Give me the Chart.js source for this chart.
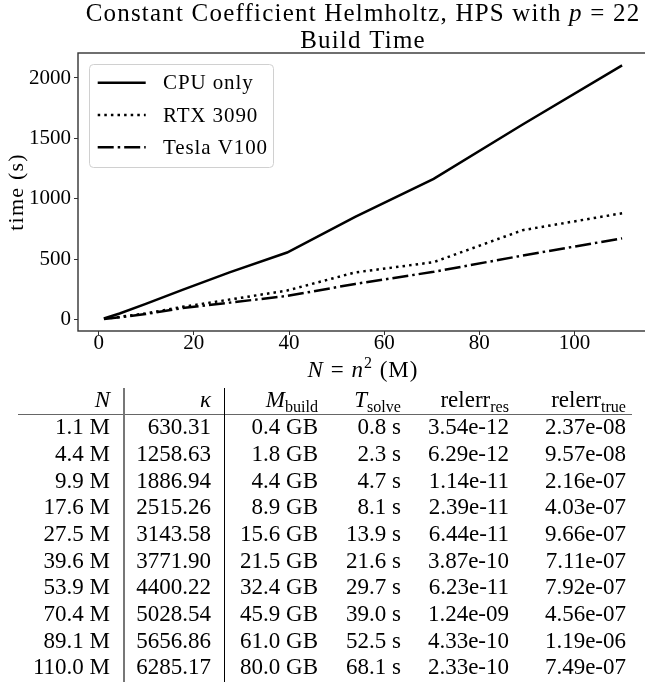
<!DOCTYPE html>
<html>
<head>
<meta charset="utf-8">
<script src="https://cdn.jsdelivr.net/npm/chart.js@4.4.1/dist/chart.umd.min.js"></script>
<style>
  html, body { margin: 0; padding: 0; background: #fff; overflow: hidden; width: 645px; height: 682px; }
  #wrap { position: relative; width: 645px; height: 682px; overflow: hidden; }
  #chart { position: absolute; left: 0; top: 0; }
  #table { position: absolute; left: 0; top: 0; width: 645px; height: 682px; font-family: "Liberation Serif", serif; font-size: 23px; color: #000; }
  .cell { position: absolute; width: 200px; height: 26px; line-height: 26px; text-align: right; white-space: nowrap; }
  .sub { font-size: 70%; position: relative; top: 0.3em; font-style: normal; }
  .it { font-style: italic; }
  .line { position: absolute; }
</style>
</head>
<body>
<div id="wrap">
  <canvas id="chart" width="648" height="385"></canvas>
  <div id="table"></div>
</div>
<script>
// ---------------- data ----------------
const nValues   = [1.1, 4.4, 9.9, 17.6, 27.5, 39.6, 53.9, 70.4, 89.1, 110.0];   // N (millions)
const cpuOnly   = [8, 50, 130, 245, 390, 555, 850, 1165, 1615, 2105];          // build time (s)
const rtx3090   = [6, 22, 50, 105, 165, 240, 390, 475, 740, 880];
const teslaV100 = [5, 18, 45, 95, 140, 195, 295, 395, 530, 672];
const seriesNames = ['CPU only', 'RTX 3090', 'Tesla V100'];
const xTicks = [0, 20, 40, 60, 80, 100];
const yTicks = [0, 500, 1000, 1500, 2000];

const kappa      = ['630.31', '1258.63', '1886.94', '2515.26', '3143.58', '3771.90', '4400.22', '5028.54', '5656.86', '6285.17'];
const mBuild     = ['0.4', '1.8', '4.4', '8.9', '15.6', '21.5', '32.4', '45.9', '61.0', '80.0'];
const tSolve     = ['0.8', '2.3', '4.7', '8.1', '13.9', '21.6', '29.7', '39.0', '52.5', '68.1'];
const relerrRes  = ['3.54e-12', '6.29e-12', '1.14e-11', '2.39e-11', '6.44e-11', '3.87e-10', '6.23e-11', '1.24e-09', '4.33e-10', '2.33e-10'];
const relerrTrue = ['2.37e-08', '9.57e-08', '2.16e-07', '4.03e-07', '9.66e-07', '7.11e-07', '7.92e-07', '4.56e-07', '1.19e-06', '7.49e-07'];

// ---------------- chart ----------------
const FONT = '"Liberation Serif", serif';

function drawRuns(ctx, runs, cx, baseline, spacing) {
  ctx.letterSpacing = (spacing || 0) + 'px';
  let total = 0;
  runs.forEach(r => { ctx.font = r.f; r.w = ctx.measureText(r.t).width; total += r.w; });
  let x = cx - total / 2;
  ctx.textAlign = 'left';
  ctx.textBaseline = 'alphabetic';
  ctx.fillStyle = '#000';
  runs.forEach(r => { ctx.font = r.f; ctx.fillText(r.t, x, baseline + (r.dy || 0)); x += r.w; });
  ctx.letterSpacing = '0px';
}

const framePlugin = {
  id: 'frame',
  afterDatasetsDraw(chart) {
    const {ctx, chartArea: a} = chart;
    ctx.save();
    ctx.strokeStyle = '#333';
    ctx.lineWidth = 1.4;
    ctx.strokeRect(a.left, a.top, a.right - a.left, a.bottom - a.top);
    ctx.restore();
  }
};

const textPlugin = {
  id: 'texts',
  afterDraw(chart) {
    const {ctx, chartArea: a} = chart;
    const cx = (a.left + a.right) / 2;
    ctx.save();
    const n = '25px ' + FONT, i = 'italic 25px ' + FONT;
    drawRuns(ctx, [{t: 'Constant Coefficient Helmholtz, HPS with ', f: n}, {t: 'p', f: i}, {t: ' = 22', f: n}], cx, 21, 1.2);
    drawRuns(ctx, [{t: 'Build Time', f: n}], cx, 48, 1.2);
    const xn = '23px ' + FONT, xi = 'italic 23px ' + FONT, xs = '16px ' + FONT;
    drawRuns(ctx, [{t: 'N', f: xi}, {t: ' = ', f: xn}, {t: 'n', f: xi}, {t: '2', f: xs, dy: -9}, {t: ' (M)', f: xn}], cx, 377, 1);
    // y-axis title
    ctx.save();
    ctx.translate(17, (a.top + a.bottom) / 2);
    ctx.rotate(-Math.PI / 2);
    ctx.font = '22px ' + FONT;
    ctx.letterSpacing = '1.2px';
    ctx.textAlign = 'center';
    ctx.textBaseline = 'middle';
    ctx.fillStyle = '#000';
    ctx.fillText('time (s)', 0, 0);
    ctx.restore();
    ctx.restore();
  }
};

const legendPlugin = {
  id: 'customLegend',
  afterDraw(chart) {
    const {ctx} = chart;
    ctx.save();
    ctx.beginPath();
    ctx.roundRect(89.5, 64.5, 184, 103, 4);
    ctx.fillStyle = 'rgba(255,255,255,0.8)';
    ctx.fill();
    ctx.strokeStyle = '#d0d0d0';
    ctx.lineWidth = 1;
    ctx.stroke();
    chart.data.datasets.forEach((ds, k) => {
      const y = 82.7 + 32.3 * k;
      ctx.beginPath();
      ctx.setLineDash(ds.borderDash || []);
      ctx.lineWidth = ds.borderWidth;
      ctx.strokeStyle = ds.borderColor;
      ctx.moveTo(97.7, y);
      ctx.lineTo(145.7, y);
      ctx.stroke();
      ctx.setLineDash([]);
      ctx.font = '21px ' + FONT;
      ctx.letterSpacing = '0.9px';
      ctx.fillStyle = '#000';
      ctx.textAlign = 'left';
      ctx.textBaseline = 'middle';
      ctx.fillText(ds.label, 163, y + 1);
      ctx.letterSpacing = '0px';
    });
    ctx.restore();
  }
};

function pts(ys) { return nValues.map((x, k) => ({x: x, y: ys[k]})); }
const dashes = [[], [2.5, 4.1], [16, 4, 2.5, 4]];
const allSeries = [cpuOnly, rtx3090, teslaV100];

new Chart(document.getElementById('chart').getContext('2d'), {
  type: 'line',
  data: {
    datasets: allSeries.map((s, k) => ({
      label: seriesNames[k],
      data: pts(s),
      borderColor: '#000',
      backgroundColor: '#000',
      borderWidth: 2.5,
      borderDash: dashes[k],
      pointRadius: 0,
      tension: 0,
      fill: false
    }))
  },
  options: {
    responsive: false,
    animation: false,
    devicePixelRatio: 1,
    layout: {padding: {top: 53, right: 0, bottom: 0, left: 0}},
    plugins: {legend: {display: false}, tooltip: {enabled: false}, title: {display: false}},
    scales: {
      x: {
        type: 'linear', min: -4.345, max: 115.445,
        grid: {drawOnChartArea: false, drawTicks: true, tickLength: 4, color: '#333'},
        border: {display: false},
        afterBuildTicks(s) { s.ticks = xTicks.map(v => ({value: v})); },
        ticks: {autoSkip: false, maxRotation: 0, color: '#000',
                font: {family: FONT, size: 21, lineHeight: 1}, padding: -2,
                callback: v => String(v)},
        afterFit(s) { s.height = 54; }
      },
      y: {
        type: 'linear', min: -95, max: 2207,
        grid: {drawOnChartArea: false, drawTicks: true, tickLength: 4, color: '#333'},
        border: {display: false},
        afterBuildTicks(s) { s.ticks = yTicks.map(v => ({value: v})); },
        ticks: {autoSkip: false, color: '#000', font: {family: FONT, size: 21}, padding: 3,
                callback: v => String(v)},
        afterFit(s) { s.width = 78; }
      }
    }
  },
  plugins: [framePlugin, legendPlugin, textPlugin]
});

// ---------------- table ----------------
const table = document.getElementById('table');
const colRight = [110, 211, 318, 401, 509, 626];
const headerY = 400, firstRowY = 427.3, rowStep = 26.67;

function addCell(html, right, cy) {
  const d = document.createElement('div');
  d.className = 'cell';
  d.style.left = (right - 200) + 'px';
  d.style.top = (cy - 13) + 'px';
  d.innerHTML = html;
  table.appendChild(d);
}
function addLine(l, t, w, h, c) {
  const d = document.createElement('div');
  d.className = 'line';
  d.style.left = l + 'px'; d.style.top = t + 'px';
  d.style.width = w + 'px'; d.style.height = h + 'px';
  d.style.background = c;
  table.appendChild(d);
}
const headers = [
  '<span class="it">N</span>',
  '<span class="it">κ</span>',
  '<span class="it">M</span><span class="sub">build</span>',
  '<span class="it">T</span><span class="sub">solve</span>',
  'relerr<span class="sub">res</span>',
  'relerr<span class="sub">true</span>'
];
headers.forEach((h, c) => addCell(h, colRight[c], headerY));
nValues.forEach((n, r) => {
  const cy = firstRowY + rowStep * r;
  const row = [n.toFixed(1) + ' M', kappa[r], mBuild[r] + ' GB', tSolve[r] + ' s', relerrRes[r], relerrTrue[r]];
  row.forEach((v, c) => addCell(v, colRight[c], cy));
});
addLine(18, 413.5, 614, 1.5, '#666');
addLine(123, 388, 2, 294, '#777');
addLine(223.5, 388, 1.2, 294, '#000');
</script>
</body>
</html>
